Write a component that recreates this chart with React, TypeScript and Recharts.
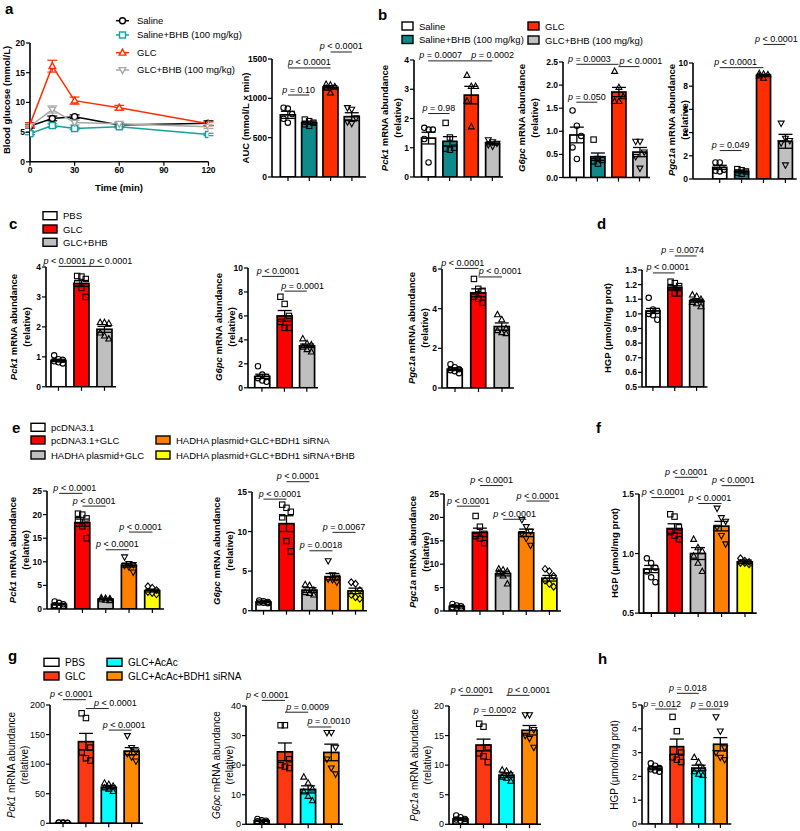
import React from 'react';
import { BarChart, Bar, LineChart, Line, XAxis, YAxis, ErrorBar, ReferenceLine } from 'recharts';

const FONT = '"Liberation Sans", Arial, Helvetica, sans-serif';

// ---- groups ----
const abGroups = ['Saline', 'Saline+BHB (100 mg/kg)', 'GLC', 'GLC+BHB (100 mg/kg)'];
const abColors = ['#ffffff', '#0e8a8a', '#ff2d00', '#c0c0c0'];
const abShapes = ['circle', 'square', 'triangle', 'invTriangle'];

const cdGroups = ['PBS', 'GLC', 'GLC+BHB'];
const cdColors = ['#ffffff', '#ff0000', '#bfbfbf'];
const cdShapes = ['circle', 'square', 'triangle'];

const efGroups = ['pcDNA3.1', 'pcDNA3.1+GLC', 'HADHA plasmid+GLC', 'HADHA plasmid+GLC+BDH1 siRNA', 'HADHA plasmid+GLC+BDH1 siRNA+BHB'];
const efColors = ['#ffffff', '#ff0000', '#bfbfbf', '#ff8000', '#ffff00'];
const efShapes = ['circle', 'square', 'triangle', 'invTriangle', 'diamond'];

const ghGroups = ['PBS', 'GLC', 'GLC+AcAc', 'GLC+AcAc+BDH1 siRNA'];
const ghColors = ['#ffffff', '#ff3814', '#00ffff', '#ff8c00'];
const ghShapes = ['circle', 'square', 'triangle', 'invTriangle'];

// ---- a: blood glucose time course ----
const aTime = [0, 15, 30, 60, 120];
const aSaline = [6.0, 7.3, 7.6, 6.2, 6.5];
const aSalineSem = [0.3, 0.4, 0.3, 0.3, 0.4];
const aSalineBhb = [4.75, 6.1, 5.6, 5.9, 4.6];
const aSalineBhbSem = [0.2, 0.3, 0.2, 0.2, 0.2];
const aGlc = [6.3, 16.1, 10.3, 9.1, 6.4];
const aGlcSem = [0.3, 1.0, 0.6, 0.4, 0.3];
const aGlcBhb = [6.0, 8.8, 6.6, 6.4, 5.9];
const aGlcBhbSem = [0.2, 0.6, 0.4, 0.3, 0.3];

// ---- a: AUC ----
const auMean = [790, 690, 1140, 767];
const auSem = [45, 20, 22, 50];
const auPts = [[880, 870, 800, 740, 690], [730, 710, 690, 670, 650], [1180, 1170, 1150, 1130, 1070], [880, 860, 750, 700, 680]];
const auP = [
  { a: 0, b: 1, y: 1042, text: '= 0.10' },
  { a: 0, b: 2, y: 1386, text: '< 0.0001' },
  { a: 2, b: 3, y: 1589, text: '< 0.0001' },
];

// ---- b ----
const b1Mean = [1.33, 1.22, 2.8, 1.15];
const b1Sem = [0.2, 0.16, 0.3, 0.05];
const b1Pts = [[1.68, 1.62, 1.62, 1.3, 0.5], [1.85, 1.35, 1.0, 0.97, 0.93], [3.48, 3.1, 3.1, 2.6, 1.72], [1.27, 1.2, 1.15, 1.1, 1.05]];
const b1P = [
  { a: 0, b: 1, y: 2.17, text: '= 0.98' },
  { a: 0, b: 2, y: 3.97, text: '= 0.0007', dx: -9 },
  { a: 2, b: 3, y: 3.97, text: '= 0.0002', dx: 11 },
];
const b2Mean = [0.92, 0.45, 1.85, 0.55];
const b2Sem = [0.17, 0.08, 0.1, 0.1];
const b2Pts = [[1.45, 1.12, 0.9, 0.65, 0.4], [0.82, 0.4, 0.38, 0.35, 0.3], [2.3, 1.95, 1.75, 1.65, 1.65], [0.78, 0.78, 0.55, 0.45, 0.2]];
const b2P = [
  { a: 0, b: 1, y: 1.63, text: '= 0.050' },
  { a: 0, b: 2, y: 2.45, text: '= 0.0003', dx: -8 },
  { a: 2, b: 3, y: 2.4, text: '< 0.0001', dx: 12 },
];
const b3Mean = [1.0, 0.65, 8.95, 3.25];
const b3Sem = [0.18, 0.12, 0.08, 0.6];
const b3Pts = [[1.42, 1.42, 0.8, 0.7, 0.65], [0.85, 0.75, 0.65, 0.55, 0.45], [9.1, 9.05, 9.0, 8.9, 8.7], [4.8, 3.5, 3.3, 3.1, 1.2]];
const b3P = [
  { a: 0, b: 1, y: 2.45, text: '= 0.049' },
  { a: 0, b: 2, y: 9.6, text: '< 0.0001', dx: -6 },
  { a: 2, b: 3, y: 11.6, text: '< 0.0001', dx: 2 },
];

// ---- c ----
const c1Mean = [0.88, 3.45, 1.92];
const c1Sem = [0.04, 0.1, 0.1];
const c1Pts = [[1.05, 0.92, 0.9, 0.85, 0.82, 0.78], [3.7, 3.68, 3.6, 3.45, 3.3, 3.0], [2.15, 2.15, 2.12, 1.8, 1.7, 1.6]];
const c1P = [
  { a: 0, b: 1, y: 4.02, text: '< 0.0001', dx: -5 },
  { a: 1, b: 2, y: 4.02, text: '< 0.0001', dx: 18 },
];
const c2Mean = [0.95, 6.0, 3.5];
const c2Sem = [0.18, 0.45, 0.15];
const c2Pts = [[1.8, 1.1, 0.9, 0.8, 0.6, 0.5], [7.6, 7.0, 6.0, 5.5, 5.0, 5.0], [4.1, 3.7, 3.6, 3.4, 3.2, 3.0]];
const c2P = [
  { a: 0, b: 1, y: 9.3, text: '< 0.0001', dx: 5 },
  { a: 1, b: 2, y: 8.07, text: '= 0.0001', dx: 7 },
];
const c3Mean = [0.95, 4.8, 3.1];
const c3Sem = [0.07, 0.2, 0.18];
const c3Pts = [[1.2, 1.05, 0.95, 0.9, 0.85, 0.75], [5.5, 5.0, 4.9, 4.6, 4.5, 4.3], [3.7, 3.45, 3.0, 2.9, 2.8, 2.75]];
const c3P = [
  { a: 0, b: 1, y: 6.03, text: '< 0.0001', dx: -4 },
  { a: 1, b: 2, y: 5.6, text: '< 0.0001', dx: 10 },
];

// ---- d ----
const dMean = [1.02, 1.18, 1.09];
const dSem = [0.017, 0.012, 0.01];
const dPts = [[1.11, 1.03, 1.02, 1.0, 0.99, 0.96], [1.22, 1.21, 1.19, 1.18, 1.14, 1.14], [1.13, 1.12, 1.1, 1.08, 1.07, 1.05]];
const dP = [
  { a: 0, b: 1, y: 1.28, text: '< 0.0001', dx: 4 },
  { a: 1, b: 2, y: 1.396, text: '= 0.0074', dx: -3 },
];

// ---- e ----
const e1Mean = [1.0, 18.3, 2.1, 9.3, 3.9];
const e1Sem = [0.15, 0.75, 0.1, 0.4, 0.3];
const e1Pts = [[1.6, 1.3, 1.0, 0.8, 0.7, 0.6], [20.2, 20.0, 19.2, 18.8, 17.5, 15.0], [2.4, 2.3, 2.2, 2.0, 1.9, 1.8], [11.0, 9.6, 9.4, 9.2, 8.9, 7.8], [4.8, 4.5, 4.0, 3.6, 3.4, 3.1]];
const e1P = [
  { a: 0, b: 1, y: 24.5, text: '< 0.0001', dx: 4 },
  { a: 1, b: 2, y: 21.8, text: '< 0.0001' },
  { a: 2, b: 3, y: 12.55, text: '< 0.0001' },
  { a: 3, b: 4, y: 16.3, text: '< 0.0001' },
];
const e2Mean = [1.1, 11.0, 2.6, 4.3, 2.5];
const e2Sem = [0.1, 1.0, 0.3, 0.4, 0.35];
const e2Pts = [[1.3, 1.2, 1.1, 1.05, 1.0, 0.95], [13.4, 13.0, 12.5, 11.8, 8.8, 7.5], [3.3, 3.2, 2.6, 2.3, 2.2, 2.0], [6.3, 4.5, 4.2, 4.0, 3.9, 3.6], [3.6, 3.4, 2.6, 2.0, 1.7, 1.5]];
const e2P = [
  { a: 0, b: 1, y: 14.1, text: '< 0.0001', dx: 5 },
  { a: 1, b: 2, y: 16.3, text: '< 0.0001' },
  { a: 2, b: 3, y: 7.57, text: '= 0.0018' },
  { a: 3, b: 4, y: 9.9, text: '= 0.0067' },
];
const e3Mean = [1.0, 16.8, 8.0, 16.7, 7.0];
const e3Sem = [0.15, 0.9, 0.5, 0.8, 0.6];
const e3Pts = [[1.5, 1.2, 1.0, 0.8, 0.7, 0.6], [20.3, 18.0, 16.5, 16.0, 15.5, 14.5], [9.0, 8.8, 8.5, 8.2, 7.5, 5.8], [19.5, 18.0, 17.0, 16.5, 15.5, 14.0], [9.0, 8.5, 7.5, 6.5, 5.8, 5.2]];
const e3P = [
  { a: 0, b: 1, y: 22.4, text: '< 0.0001' },
  { a: 1, b: 2, y: 26.8, text: '< 0.0001' },
  { a: 2, b: 3, y: 19.6, text: '< 0.0001' },
  { a: 3, b: 4, y: 23.5, text: '< 0.0001' },
];

// ---- f ----
const fMean = [0.87, 1.21, 1.0, 1.23, 0.93];
const fSem = [0.03, 0.04, 0.05, 0.04, 0.015];
const fPts = [[0.96, 0.92, 0.88, 0.85, 0.8, 0.76], [1.33, 1.31, 1.22, 1.18, 1.15, 1.12], [1.12, 1.05, 1.02, 0.98, 0.92, 0.85], [1.38, 1.3, 1.27, 1.22, 1.15, 1.08], [0.96, 0.94, 0.93, 0.92, 0.92, 0.91]];
const fP = [
  { a: 0, b: 1, y: 1.47, text: '< 0.0001' },
  { a: 1, b: 2, y: 1.64, text: '< 0.0001' },
  { a: 2, b: 3, y: 1.42, text: '< 0.0001' },
  { a: 3, b: 4, y: 1.57, text: '< 0.0001' },
];

// ---- g ----
const g1Mean = [1.0, 138, 61, 122];
const g1Sem = [0.2, 14, 3, 6];
const g1Pts = [[1.5, 1.2, 1.0, 0.9, 0.8, 0.6], [186, 178, 128, 120, 110, 106], [68, 66, 63, 60, 58, 54], [148, 128, 122, 118, 112, 105]];
const g1P = [
  { a: 0, b: 1, y: 209, text: '< 0.0001', dx: -3 },
  { a: 1, b: 2, y: 194, text: '< 0.0001', dx: 18 },
  { a: 2, b: 3, y: 157.6, text: '< 0.0001', dx: 4 },
];
const g2Mean = [1.2, 24.5, 11.8, 24.3];
const g2Sem = [0.2, 3.0, 1.2, 2.8];
const g2Pts = [[1.8, 1.4, 1.2, 1.0, 0.9, 0.8], [33.5, 33.5, 22, 20, 19.5, 19], [16, 14, 12, 11, 9.5, 8], [31, 31, 26, 22, 19, 17]];
const g2P = [
  { a: 0, b: 1, y: 41.9, text: '< 0.0001', dx: -6 },
  { a: 1, b: 2, y: 37.9, text: '= 0.0009', dx: 11 },
  { a: 2, b: 3, y: 32.9, text: '= 0.0010', dx: 9 },
];
const g3Mean = [0.9, 13.4, 8.3, 15.9];
const g3Sem = [0.2, 1.0, 0.4, 0.8];
const g3Pts = [[1.5, 1.2, 0.9, 0.8, 0.6, 0.5], [17, 16.5, 13, 12, 11.5, 10.5], [9.2, 9.0, 8.5, 8.0, 7.8, 7.3], [18.5, 18.5, 16, 15, 14.5, 13]];
const g3P = [
  { a: 0, b: 1, y: 21.8, text: '< 0.0001' },
  { a: 1, b: 2, y: 18.4, text: '= 0.0002' },
  { a: 2, b: 3, y: 21.8, text: '< 0.0001', dx: 11 },
];

// ---- h ----
const hMean = [2.35, 3.25, 2.35, 3.35];
const hSem = [0.07, 0.32, 0.12, 0.28];
const hPts = [[2.55, 2.45, 2.35, 2.3, 2.25, 2.2], [4.5, 3.9, 3.0, 2.8, 2.7, 2.6], [2.8, 2.6, 2.35, 2.2, 2.1, 2.05], [4.5, 3.9, 3.2, 3.0, 2.8, 2.7]];
const hP = [
  { a: 0, b: 1, y: 4.83, text: '= 0.012', dx: -4 },
  { a: 1, b: 2, y: 5.49, text: '= 0.018' },
  { a: 2, b: 3, y: 4.83, text: '= 0.019' },
];

const JITTER = [-4.3, 0, 4.3, -4.3, 0, 4.3];
const YW = 36;
const MT = 46;
const XH = 10;

type Bracket = { a: number; b: number; y: number; text: string; dx?: number };

function Marker({ shape, cx, cy, s = 5.4, stroke = '#000', fill = 'none', sw = 1.1 }: any) {
  const h = s / 2;
  const common = { stroke, fill, strokeWidth: sw };
  if (shape === 'square') return <rect x={cx - h} y={cy - h} width={s} height={s} {...common} />;
  if (shape === 'triangle')
    return <polygon points={`${cx},${cy - h * 1.2} ${cx + h * 1.1},${cy + h * 0.8} ${cx - h * 1.1},${cy + h * 0.8}`} {...common} />;
  if (shape === 'invTriangle')
    return <polygon points={`${cx},${cy + h * 1.2} ${cx + h * 1.1},${cy - h * 0.8} ${cx - h * 1.1},${cy - h * 0.8}`} {...common} />;
  if (shape === 'diamond')
    return <polygon points={`${cx},${cy - h * 1.25} ${cx + h * 1.05},${cy} ${cx},${cy + h * 1.25} ${cx - h * 1.05},${cy}`} {...common} />;
  return <circle cx={cx} cy={cy} r={h} {...common} />;
}

// bar with its individual animals, placed through the bar's own value->pixel mapping
function BarWithPoints(p: any) {
  const { x, y, width, height, payload, lo } = p;
  if (x == null || !payload) return null;
  const base = y + height;
  const ppu = height / (payload.mean - lo);
  const cx = x + width / 2;
  const sorted = [...payload.pts].sort((u: number, v: number) => v - u);
  return (
    <g>
      <rect x={x} y={y} width={width} height={height} fill={payload.color} stroke="#000" strokeWidth={1.7} />
      {sorted.map((v: number, i: number) => (
        <Marker key={i} shape={payload.shape} cx={cx + JITTER[i % JITTER.length]} cy={base - (v - lo) * ppu} />
      ))}
    </g>
  );
}

function pText(lp: any, br: Bracket, size: number) {
  const vb = lp && lp.viewBox ? lp.viewBox : {};
  const xa = vb.x1 !== undefined ? Math.min(vb.x1, vb.x2) : vb.x;
  const xb = vb.x1 !== undefined ? Math.max(vb.x1, vb.x2) : vb.x + (vb.width || 0);
  const yy = vb.y1 !== undefined ? vb.y1 : vb.y;
  if (xa == null || yy == null) return null;
  return (
    <text x={(xa + xb) / 2 + (br.dx || 0)} y={yy - 2.5} textAnchor="middle" fontSize={size} fontFamily={FONT} fill="#000">
      <tspan fontStyle="italic">p</tspan>
      {` ${br.text}`}
    </text>
  );
}

interface PanelProps {
  axisX: number; top: number; bottom: number; end: number;
  first: number; step: number;
  domain: [number, number]; ticks: number[];
  names: string[]; means: number[]; sems: number[]; pts: number[][];
  colors: string[]; shapes: string[];
  brackets: Bracket[];
  barSize?: number;
  fmt?: (v: number) => string;
  light?: boolean;
}

function BarPanel(props: PanelProps) {
  const { axisX, top, bottom, end, first, step, domain, ticks, names, means, sems, pts, colors, shapes, brackets, barSize = 15, fmt, light } = props;
  const n = names.length;
  const plotW = end - axisX;
  const padL = Math.max(0, first - step / 2 - axisX);
  const padR = Math.max(0, plotW - padL - n * step);
  const rows = names.map((name, i) => ({ name, mean: means[i], sem: sems[i], pts: pts[i], color: colors[i], shape: shapes[i] }));
  const lo = domain[0];
  const axisStyle = { stroke: '#000', strokeWidth: 1.6 };
  return (
    <div style={{ position: 'absolute', left: axisX - YW, top: top - MT }}>
      <BarChart width={YW + plotW + 4} height={MT + bottom - top + XH} data={rows} margin={{ top: MT, right: 4, bottom: 0, left: 0 }}>
        <XAxis dataKey="name" padding={{ left: padL, right: padR }} height={XH} tickSize={4} interval={0}
          tickFormatter={() => ''} axisLine={axisStyle} tickLine={{ stroke: '#000', strokeWidth: 1.2 }} />
        <YAxis type="number" domain={domain} ticks={ticks} allowDataOverflow width={YW} interval={0} tickSize={4} tickMargin={1}
          tickFormatter={fmt} axisLine={axisStyle} tickLine={{ stroke: '#000', strokeWidth: 1.2 }}
          tick={{ fontSize: light ? 9 : 8.5, fontWeight: light ? 400 : 700, fill: '#000', fontFamily: FONT }} />
        <Bar dataKey="mean" barSize={barSize} isAnimationActive={false} shape={(sp: any) => <BarWithPoints {...sp} lo={lo} />}>
          <ErrorBar dataKey="sem" direction="y" width={7} stroke="#000" strokeWidth={1.3} />
        </Bar>
        {brackets.map((br, i) => (
          <ReferenceLine key={i} ifOverflow="visible" stroke="#222" strokeWidth={1}
            segment={[{ x: names[br.a], y: br.y }, { x: names[br.b], y: br.y }]}
            label={(lp: any) => pText(lp, br, 9)} />
        ))}
      </BarChart>
    </div>
  );
}

const aRows = aTime.map((t, i) => ({
  t,
  s: aSaline[i], sSem: aSalineSem[i],
  sb: aSalineBhb[i], sbSem: aSalineBhbSem[i],
  g: aGlc[i], gSem: aGlcSem[i],
  gb: aGlcBhb[i], gbSem: aGlcBhbSem[i],
}));

const aSeries = [
  { key: 's', color: '#000000', shape: 'circle' },
  { key: 'sb', color: '#17a0a0', shape: 'square' },
  { key: 'g', color: '#ff2d00', shape: 'triangle' },
  { key: 'gb', color: '#a8a8a8', shape: 'invTriangle' },
];

function TimeCourse() {
  const axisX = 29.5, top = 42.7, bottom = 161.5, end = 208;
  const axisStyle = { stroke: '#000', strokeWidth: 1.6 };
  const tick = { fontSize: 8.5, fontWeight: 700, fill: '#000', fontFamily: FONT };
  return (
    <div style={{ position: 'absolute', left: axisX - YW, top: top - 10 }}>
      <LineChart width={YW + end - axisX + 8} height={10 + bottom - top + 16} data={aRows} margin={{ top: 10, right: 8, bottom: 0, left: 0 }}>
        <XAxis dataKey="t" type="number" domain={[0, 120]} ticks={[0, 30, 60, 90, 120]} allowDataOverflow height={16}
          tickSize={4} tickMargin={1} axisLine={axisStyle} tickLine={{ stroke: '#000', strokeWidth: 1.2 }} tick={tick} />
        <YAxis type="number" domain={[0, 20]} ticks={[0, 5, 10, 15, 20]} allowDataOverflow width={YW} tickSize={4} tickMargin={1}
          axisLine={axisStyle} tickLine={{ stroke: '#000', strokeWidth: 1.2 }} tick={tick} />
        {aSeries.map((se) => (
          <Line key={se.key} dataKey={se.key} type="linear" stroke={se.color} strokeWidth={1.5} isAnimationActive={false}
            dot={(dp: any) => <Marker key={`${se.key}${dp.index}`} shape={se.shape} cx={dp.cx} cy={dp.cy} s={6} stroke={se.color} fill="#fff" sw={1.4} />}>
            <ErrorBar dataKey={`${se.key}Sem`} direction="y" width={5} stroke={se.color} strokeWidth={1.2} />
          </Line>
        ))}
      </LineChart>
    </div>
  );
}

function VLabel({ x, y, gene, rest, size = 9.5, weight = 700 }: any) {
  return (
    <text transform={`translate(${x},${y}) rotate(-90)`} textAnchor="middle" fontSize={size} fontWeight={weight} fontFamily={FONT} fill="#000">
      {gene ? <tspan fontStyle="italic">{gene}</tspan> : null}
      {rest}
    </text>
  );
}

function SwatchLegend({ items, size = 9.5 }: any) {
  return (
    <g>
      {items.map((it: any, i: number) => (
        <g key={i}>
          <rect x={it.x} y={it.y - 4} width={it.w || 14} height={8} fill={it.color} stroke="#000" strokeWidth={1.4} />
          <text x={it.x + (it.w || 14) + 6} y={it.y + 3.5} fontSize={size} fontFamily={FONT} fill="#000">{it.label}</text>
        </g>
      ))}
    </g>
  );
}

function Overlay() {
  const letter = { fontSize: 15, fontWeight: 700, fontFamily: FONT, fill: '#000' } as any;
  const aLegY = [20.7, 35, 52.7, 70];
  return (
    <svg width={800} height={831} style={{ position: 'absolute', left: 0, top: 0, pointerEvents: 'none' }}>
      <text x={5} y={14} {...letter}>a</text>
      <text x={378} y={20} {...letter}>b</text>
      <text x={9} y={229} {...letter}>c</text>
      <text x={597} y={229} {...letter}>d</text>
      <text x={12} y={433} {...letter}>e</text>
      <text x={596} y={433} {...letter}>f</text>
      <text x={8} y={661} {...letter}>g</text>
      <text x={598} y={664} {...letter}>h</text>

      {/* a legend */}
      {aSeries.map((se, i) => (
        <g key={se.key}>
          <line x1={116} x2={129} y1={aLegY[i]} y2={aLegY[i]} stroke={se.color} strokeWidth={1.5} />
          <Marker shape={se.shape} cx={122.5} cy={aLegY[i]} s={6} stroke={se.color} fill="#fff" sw={1.4} />
          <text x={137} y={aLegY[i] + 3.3} fontSize={9.5} fontFamily={FONT}>{abGroups[i]}</text>
        </g>
      ))}
      <text x={119} y={191} textAnchor="middle" fontSize={9.5} fontWeight={700} fontFamily={FONT}>Time (min)</text>
      <VLabel x={10} y={100} rest="Blood glucose (mmol/L)" />
      <VLabel x={249} y={118} rest="AUC (mmol/L × min)" />

      {/* b legend */}
      <SwatchLegend items={[
        { x: 402, y: 26, w: 11, color: abColors[0], label: abGroups[0] },
        { x: 402, y: 39.5, w: 11, color: abColors[1], label: abGroups[1] },
        { x: 528, y: 26, w: 11, color: abColors[2], label: abGroups[2] },
        { x: 528, y: 40, w: 11, color: abColors[3], label: abGroups[3] },
      ]} />
      <VLabel x={388} y={118} gene="Pck1" rest=" mRNA abundance" />
      <VLabel x={401} y={118} rest="(relative)" />
      <VLabel x={525} y={118} gene="G6pc" rest=" mRNA abundance" />
      <VLabel x={538} y={118} rest="(relative)" />
      <VLabel x={675} y={120} gene="Pgc1a" rest=" mRNA abundance" />
      <VLabel x={688} y={120} rest="(relative)" />

      {/* c legend */}
      <SwatchLegend items={cdGroups.map((g, i) => ({ x: 43, y: 215.7 + i * 13.3, color: cdColors[i], label: g }))} />
      <VLabel x={17} y={327} gene="Pck1" rest=" mRNA abundance" />
      <VLabel x={30} y={327} rest="(relative)" />
      <VLabel x={222} y={327} gene="G6pc" rest=" mRNA abundance" />
      <VLabel x={235} y={327} rest="(relative)" />
      <VLabel x={415} y={328} gene="Pgc1a" rest=" mRNA abundance" />
      <VLabel x={428} y={328} rest="(relative)" />
      <VLabel x={611} y={328} rest="HGP (μmol/mg prot)" />

      {/* e legend */}
      <SwatchLegend items={[
        { x: 31, y: 427.3, color: efColors[0], label: efGroups[0] },
        { x: 31, y: 440, color: efColors[1], label: efGroups[1] },
        { x: 31, y: 455, color: efColors[2], label: efGroups[2] },
        { x: 156, y: 440, color: efColors[3], label: efGroups[3] },
        { x: 156, y: 455, color: efColors[4], label: efGroups[4] },
      ]} />
      <VLabel x={16} y={550} gene="Pck1" rest=" mRNA abundance" />
      <VLabel x={29} y={550} rest="(relative)" />
      <VLabel x={220} y={551} gene="G6pc" rest=" mRNA abundance" />
      <VLabel x={233} y={551} rest="(relative)" />
      <VLabel x={416} y={552} gene="Pgc1a" rest=" mRNA abundance" />
      <VLabel x={429} y={552} rest="(relative)" />
      <VLabel x={618} y={553} rest="HGP (μmol/mg prot)" />

      {/* g legend */}
      <SwatchLegend size={10} items={[
        { x: 44, y: 662.3, w: 15, color: ghColors[0], label: ghGroups[0] },
        { x: 44, y: 676, w: 15, color: ghColors[1], label: ghGroups[1] },
        { x: 107, y: 662.3, w: 15, color: ghColors[2], label: ghGroups[2] },
        { x: 107, y: 676, w: 15, color: ghColors[3], label: ghGroups[3] },
      ]} />
      <VLabel x={15} y={765} gene="Pck1" rest=" mRNA abundance" size={10} weight={400} />
      <VLabel x={28} y={765} rest="(relative)" size={10} weight={400} />
      <VLabel x={220} y={765} gene="G6pc" rest=" mRNA abundance" size={10} weight={400} />
      <VLabel x={233} y={765} rest="(relative)" size={10} weight={400} />
      <VLabel x={418} y={765} gene="Pgc1a" rest=" mRNA abundance" size={10} weight={400} />
      <VLabel x={431} y={765} rest="(relative)" size={10} weight={400} />
      <VLabel x={618} y={765} rest="HGP (μmol/mg prot)" size={10} weight={400} />
    </svg>
  );
}

const f1 = (v: number) => v.toFixed(1);

export default function App() {
  return (
    <div style={{ position: 'absolute', left: 0, top: 0, width: 800, height: 831, background: '#fff', fontFamily: FONT }}>
      <style>{'.recharts-surface{overflow:visible}.recharts-wrapper{overflow:visible}'}</style>
      <TimeCourse />
      <BarPanel axisX={272} top={59} bottom={177} end={366} first={288} step={21.3} domain={[0, 1500]} ticks={[0, 500, 1000, 1500]}
        names={abGroups} means={auMean} sems={auSem} pts={auPts} colors={abColors} shapes={abShapes} brackets={auP} />

      <BarPanel axisX={414} top={60} bottom={177} end={503} first={428.3} step={21.5} domain={[0, 4]} ticks={[0, 1, 2, 3, 4]} barSize={14}
        names={abGroups} means={b1Mean} sems={b1Sem} pts={b1Pts} colors={abColors} shapes={abShapes} brackets={b1P} />
      <BarPanel axisX={563} top={61.5} bottom={177} end={650} first={576.7} step={21.7} domain={[0, 2.5]} ticks={[0, 0.5, 1, 1.5, 2, 2.5]} barSize={14}
        fmt={f1} names={abGroups} means={b2Mean} sems={b2Sem} pts={b2Pts} colors={abColors} shapes={abShapes} brackets={b2P} />
      <BarPanel axisX={693.3} top={62.5} bottom={178.5} end={797} first={720} step={21.9} domain={[0, 10]} ticks={[0, 2, 4, 6, 8, 10]} barSize={14}
        names={abGroups} means={b3Mean} sems={b3Sem} pts={b3Pts} colors={abColors} shapes={abShapes} brackets={b3P} />

      <BarPanel axisX={46} top={266.7} bottom={386.5} end={116} first={58.6} step={23.3} domain={[0, 4]} ticks={[0, 1, 2, 3, 4]}
        names={cdGroups} means={c1Mean} sems={c1Sem} pts={c1Pts} colors={cdColors} shapes={cdShapes} brackets={c1P} />
      <BarPanel axisX={248} top={267.7} bottom={387.5} end={318} first={262.4} step={23.3} domain={[0, 10]} ticks={[0, 2, 4, 6, 8, 10]}
        names={cdGroups} means={c2Mean} sems={c2Sem} pts={c2Pts} colors={cdColors} shapes={cdShapes} brackets={c2P} />
      <BarPanel axisX={442} top={269} bottom={388} end={514} first={455} step={23.5} domain={[0, 6]} ticks={[0, 2, 4, 6]}
        names={cdGroups} means={c3Mean} sems={c3Sem} pts={c3Pts} colors={cdColors} shapes={cdShapes} brackets={c3P} />
      <BarPanel axisX={641.5} top={270} bottom={387} end={707} first={649.5} step={23.3} domain={[0.5, 1.3]}
        ticks={[0.5, 0.6, 0.7, 0.8, 0.9, 1.0, 1.1, 1.2, 1.3]} barSize={14} fmt={f1}
        names={cdGroups} means={dMean} sems={dSem} pts={dPts} colors={cdColors} shapes={cdShapes} brackets={dP} />

      <BarPanel axisX={47} top={491} bottom={609} end={164} first={59.2} step={23.45} domain={[0, 25]} ticks={[0, 5, 10, 15, 20, 25]}
        names={efGroups} means={e1Mean} sems={e1Sem} pts={e1Pts} colors={efColors} shapes={efShapes} brackets={e1P} />
      <BarPanel axisX={252} top={492.3} bottom={611} end={367} first={263.3} step={23.5} domain={[0, 15]} ticks={[0, 5, 10, 15]}
        names={efGroups} means={e2Mean} sems={e2Sem} pts={e2Pts} colors={efColors} shapes={efShapes} brackets={e2P} />
      <BarPanel axisX={444} top={494} bottom={611} end={561} first={457} step={23.5} domain={[0, 25]} ticks={[0, 5, 10, 15, 20, 25]}
        names={efGroups} means={e3Mean} sems={e3Sem} pts={e3Pts} colors={efColors} shapes={efShapes} brackets={e3P} />
      <BarPanel axisX={639.3} top={493.5} bottom={612.6} end={757} first={651.7} step={23.5} domain={[0.5, 1.5]} ticks={[0.5, 1.0, 1.5]} fmt={f1}
        names={efGroups} means={fMean} sems={fSem} pts={fPts} colors={efColors} shapes={efShapes} brackets={fP} />

      <BarPanel light axisX={50} top={705} bottom={823.3} end={143} first={63.3} step={23.4} domain={[0, 200]} ticks={[0, 50, 100, 150, 200]}
        names={ghGroups} means={g1Mean} sems={g1Sem} pts={g1Pts} colors={ghColors} shapes={ghShapes} brackets={g1P} />
      <BarPanel light axisX={246} top={705.7} bottom={824} end={343} first={262} step={23.6} domain={[0, 40]} ticks={[0, 10, 20, 30, 40]}
        names={ghGroups} means={g2Mean} sems={g2Sem} pts={g2Pts} colors={ghColors} shapes={ghShapes} brackets={g2P} />
      <BarPanel light axisX={449} top={705.7} bottom={824} end={541} first={460.5} step={23.1} domain={[0, 20]} ticks={[0, 5, 10, 15, 20]}
        names={ghGroups} means={g3Mean} sems={g3Sem} pts={g3Pts} colors={ghColors} shapes={ghShapes} brackets={g3P} />
      <BarPanel light axisX={641.7} top={705} bottom={824} end={731} first={655} step={21.9} domain={[0, 5]} ticks={[0, 1, 2, 3, 4, 5]} barSize={13.5}
        names={ghGroups} means={hMean} sems={hSem} pts={hPts} colors={ghColors} shapes={ghShapes} brackets={hP} />

      <Overlay />
    </div>
  );
}
